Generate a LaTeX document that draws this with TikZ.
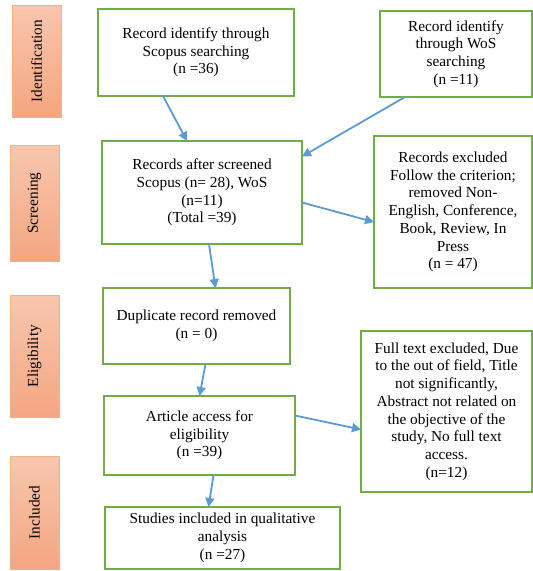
\documentclass[tikz,border=0pt]{standalone}
\usepackage{fontspec}
\setmainfont{Liberation Serif}
\usepackage{tikz}
\usetikzlibrary{positioning,arrows.meta,calc}
\definecolor{boxgreen}{RGB}{112,173,71}
\definecolor{arrblue}{RGB}{91,155,213}
\definecolor{phasetop}{RGB}{248,198,174}
\definecolor{phasebot}{RGB}{244,166,128}
\definecolor{phaseline}{RGB}{244,177,131}
\begin{document}
\begin{tikzpicture}[
  x=1pt,y=-1pt,
  font=\fontsize{15.3}{17.7}\selectfont,
  every node/.style={inner sep=0pt,outer sep=0pt},
  phase/.style={top color=phasetop,bottom color=phasebot,draw=phaseline,
    line width=0.8pt,minimum width=49pt,align=center},
  box/.style={draw=boxgreen,line width=1.4pt,fill=white,align=center,
    anchor=north west},
  arr/.style={draw=arrblue,line width=1.8pt,
    -{Triangle[length=9pt,width=9pt]}},
]
\useasboundingbox(0,0)rectangle(533,571);

\node[phase,minimum height=112pt](P1)at(36.5,61){\rotatebox{90}{Identification}};
\node[phase,minimum height=116pt](P2)at(34.5,203){\rotatebox{90}{Screening}};
\node[phase,minimum height=122pt](P3)at(34.5,356){\rotatebox{90}{Eligibility}};
\node[phase,minimum height=113pt](P4)at(34.5,512.5){\rotatebox{90}{Included}};

\node[box,minimum width=196pt,minimum height=87pt](B1)at(98,9){Record identify through\\Scopus searching\\(n =36)};
\node[box,minimum width=152pt,minimum height=86pt](B2)at(380,11){Record identify\\through WoS\\searching\\(n =11)};
\node[box,minimum width=200pt,minimum height=103pt](B3)at(102,141){Records after screened\\Scopus (n= 28), WoS\\(n=11)\\(Total =39)};
\node[box,minimum width=158pt,minimum height=152pt](B4)at(374,136){Records excluded\\Follow the criterion;\\removed Non-\\English, Conference,\\Book, Review, In\\Press\\(n = 47)};
\node[box,minimum width=187pt,minimum height=76pt](B5)at(103,288){Duplicate record removed\\(n = 0)};
\node[box,minimum width=191pt,minimum height=79pt](B6)at(104,396){Article access for\\eligibility\\(n =39)};
\node[box,minimum width=171pt,minimum height=161pt](B7)at(361,331){Full text excluded, Due\\to the out of field, Title\\not significantly,\\Abstract not related on\\the objective of the\\study, No full text\\access.\\(n=12)};
\node[box,minimum width=235pt,minimum height=62pt](B8)at(105,507){Studies included in qualitative\\analysis\\(n =27)};

\draw[arr]([xshift=-33pt]B1.south)--([xshift=-15pt]B3.north);
\draw[arr]([xshift=-51pt]B2.south)--([yshift=36pt]B3.east);
\draw[arr]([yshift=-10pt]B3.east)--([yshift=-10pt]B4.west);
\draw[arr]([xshift=7pt]B3.south)--([xshift=19pt]B5.north);
\draw[arr]([xshift=9pt]B5.south)--([xshift=0pt]B6.north);
\draw[arr]([yshift=20pt]B6.east)--([yshift=-18pt]B7.west);
\draw[arr]([xshift=14pt]B6.south)--([xshift=-14pt]B8.north);
\end{tikzpicture}
\end{document}
